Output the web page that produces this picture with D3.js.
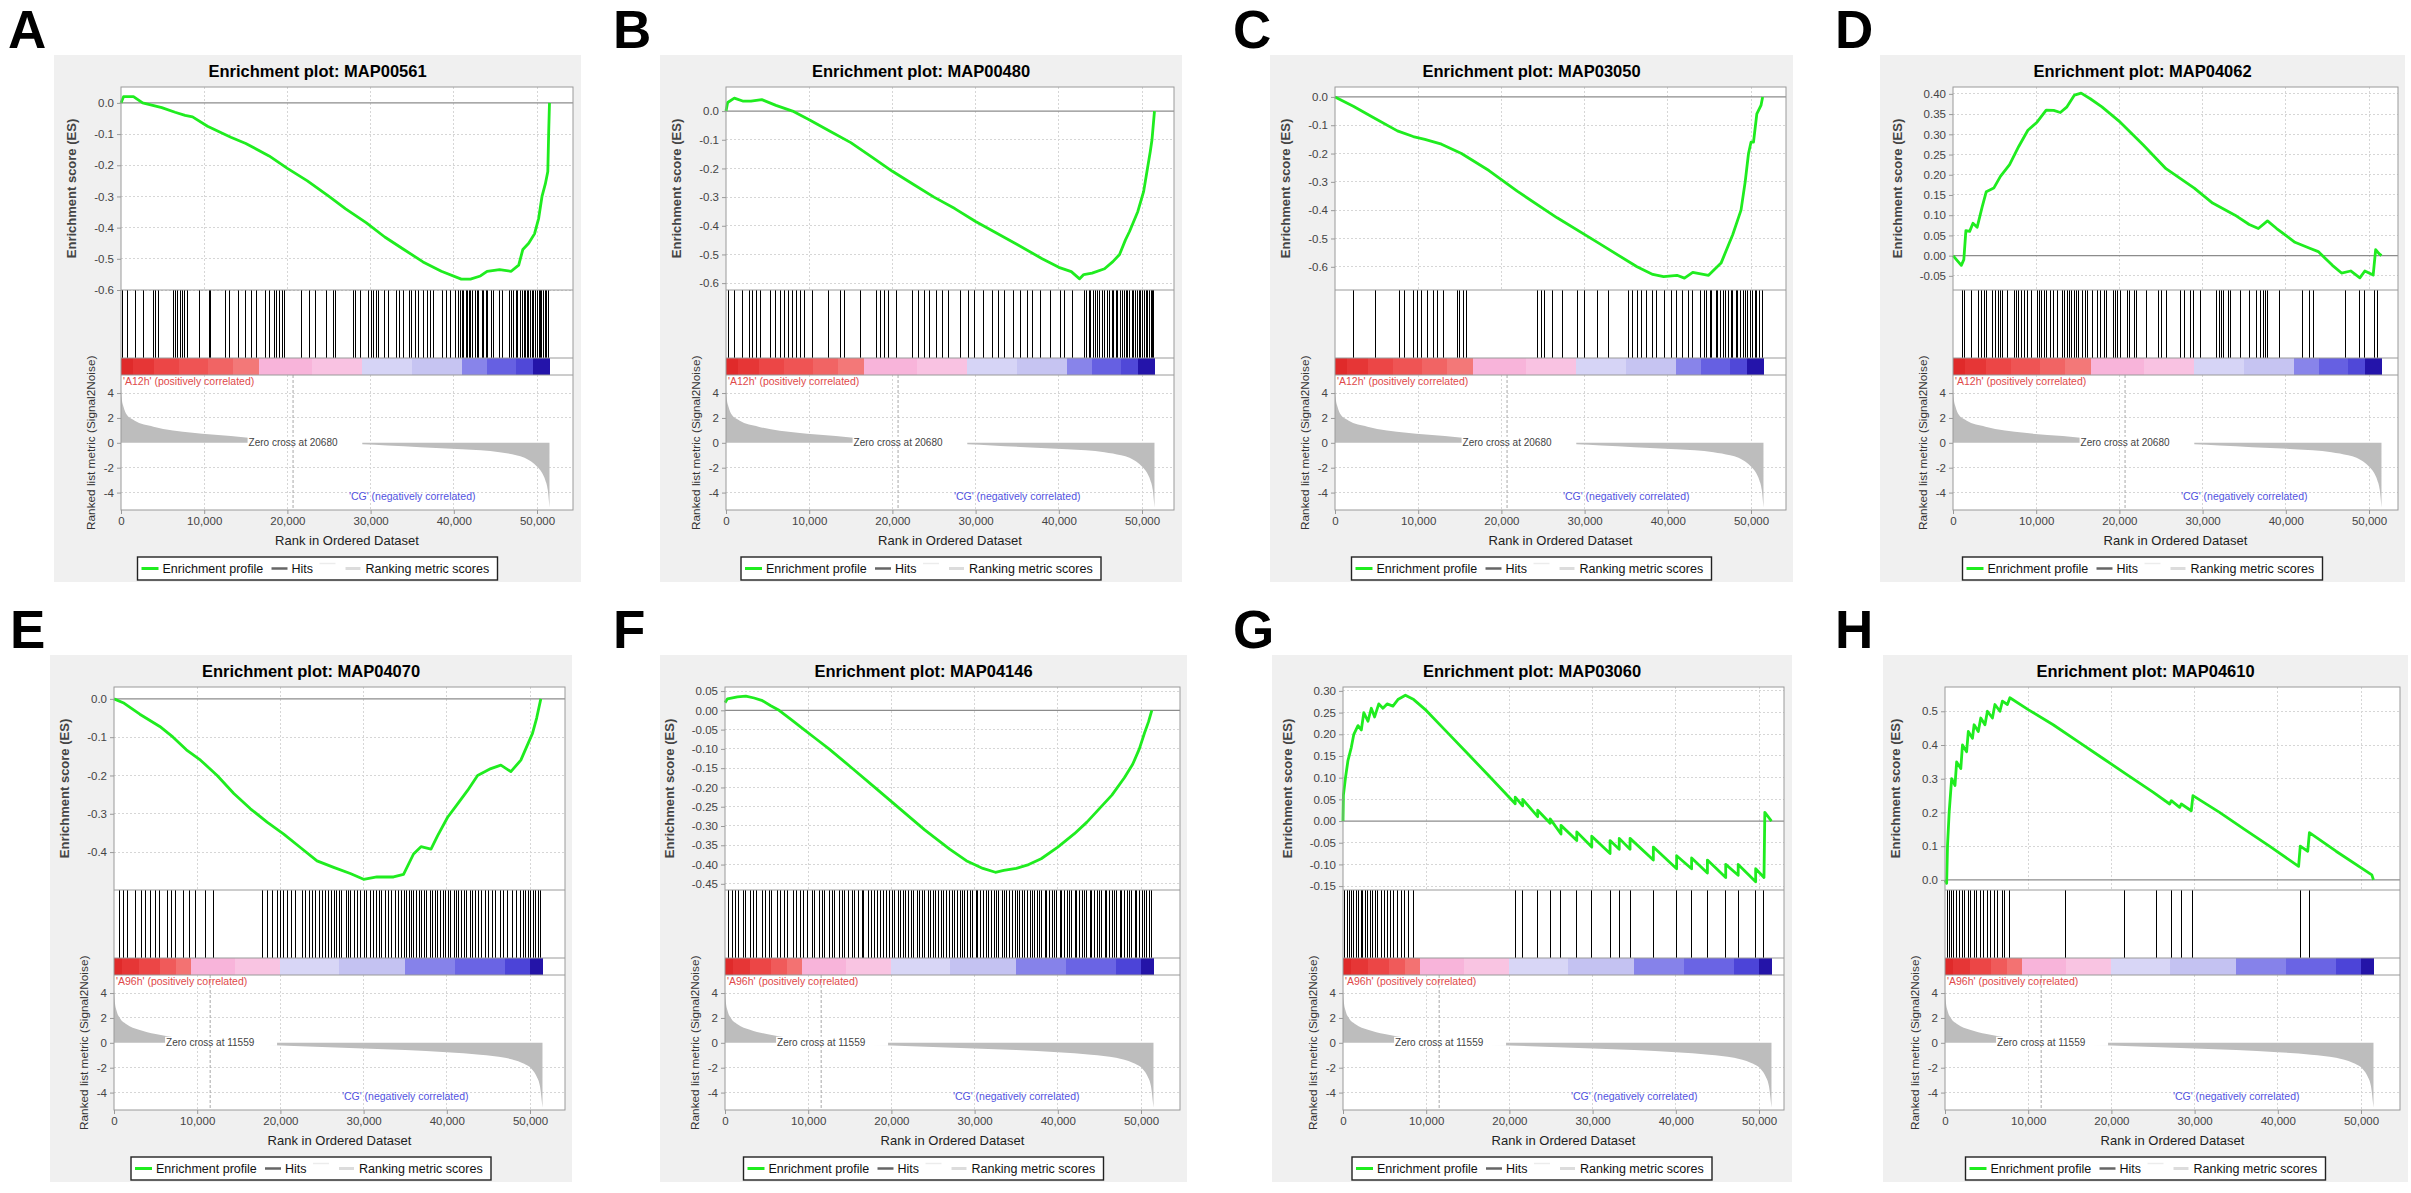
<!DOCTYPE html>
<html>
<head>
<meta charset="utf-8">
<script src="https://cdn.jsdelivr.net/npm/d3@7"></script>
<style>
  body { margin: 0; background: #fff; }
  svg text { font-family: "Liberation Sans", Arial, sans-serif; }
</style>
</head>
<body>
<div id="chart"></div>
<script>

// ---------- data (ranks in thousands) ----------

const panelLetters = ["A", "B", "C", "D", "E", "F", "G", "H"];
const geneSets = ["MAP00561", "MAP00480", "MAP03050", "MAP04062", "MAP04070", "MAP04146", "MAP03060", "MAP04610"];

// one ranked list per row of the figure
const phenotypeUp = ["A12h", "A96h"];
const phenotypeDown = ["CG", "CG"];
const zeroCross = [20680, 11559];

const xTicks = [0, 10000, 20000, 30000, 40000, 50000];
const metricTicks = [4, 2, 0, -2, -4];

const esTicksA = [0, -0.1, -0.2, -0.3, -0.4, -0.5, -0.6];
const esTicksB = [0, -0.1, -0.2, -0.3, -0.4, -0.5, -0.6];
const esTicksC = [0, -0.1, -0.2, -0.3, -0.4, -0.5, -0.6];
const esTicksD = [0.40, 0.35, 0.30, 0.25, 0.20, 0.15, 0.10, 0.05, 0.00, -0.05];
const esTicksE = [0, -0.1, -0.2, -0.3, -0.4];
const esTicksF = [0.05, 0, -0.05, -0.10, -0.15, -0.20, -0.25, -0.30, -0.35, -0.40, -0.45];
const esTicksG = [0.30, 0.25, 0.20, 0.15, 0.10, 0.05, 0.00, -0.05, -0.10, -0.15];
const esTicksH = [0.5, 0.4, 0.3, 0.2, 0.1, 0.0];

// ranked list metric (Signal2Noise), [rank, value]
const metricA12h = [[0, 4.3], [100, 3.5], [300, 2.9], [700, 2.25], [1600, 1.8], [3900, 1.3], [8600, 0.8],
  [13200, 0.54], [15000, 0.43], [18000, 0.25], [20680, 0], [25000, -0.06], [29000, -0.12], [32000, -0.22],
  [36000, -0.35], [41000, -0.51], [45500, -0.75], [47500, -1.0], [48500, -1.2], [49300, -1.5],
  [50000, -1.9], [50600, -2.4], [51000, -3.0], [51300, -3.8], [51500, -5.2]];
const metricA96h = [[0, 4.3], [100, 3.3], [300, 2.6], [700, 2.0], [1500, 1.5], [3000, 1.05], [5000, 0.7],
  [7500, 0.4], [10000, 0.15], [11559, 0], [15000, -0.12], [20000, -0.22], [25000, -0.33], [30000, -0.45],
  [35000, -0.58], [40000, -0.75], [44000, -0.95], [47000, -1.2], [49000, -1.6], [50200, -2.1],
  [50800, -2.7], [51200, -3.5], [51500, -5.2]];

// heat-map bar under the hits, [from, to, colour]
const barA12h = [[0, 1500, "#e02a2a"], [1500, 4000, "#e63636"], [4000, 7000, "#ec4646"], [7000, 10500, "#ef5454"],
  [10500, 13500, "#f16464"], [13500, 16600, "#f37878"], [16600, 23000, "#f8b4da"], [23000, 29000, "#f9c2e2"],
  [29000, 35000, "#d6d4f6"], [35000, 41000, "#c6c4f2"], [41000, 44000, "#8884ea"], [44000, 47500, "#6660e2"],
  [47500, 49500, "#5048d8"], [49500, 51500, "#2414aa"]];
const barA96h = [[0, 1000, "#e02a2a"], [1000, 3000, "#e63636"], [3000, 5500, "#ec4646"], [5500, 7500, "#f05a5a"],
  [7500, 9200, "#f37272"], [9200, 14500, "#f8b4da"], [14500, 20000, "#f9c4e2"], [20000, 27000, "#d8d6f6"],
  [27000, 35000, "#c4c2f2"], [35000, 41000, "#8682ea"], [41000, 47000, "#6a64e4"], [47000, 50000, "#4c44d8"],
  [50000, 51500, "#2414a8"]];

// running enrichment score, [rank (k), ES]
const esA = [[0, 0], [0.3, 0.02], [1.5, 0.02], [2.6, 0.0], [4.9, -0.015], [6.5, -0.03], [7.7, -0.04], [8.6, -0.045],
  [10.4, -0.075], [13.2, -0.11], [15, -0.13], [17.8, -0.17], [20, -0.21], [22.4, -0.25], [25, -0.3], [27, -0.34],
  [29.5, -0.385], [31.7, -0.43], [34, -0.47], [36.3, -0.51], [38.5, -0.54], [40.9, -0.565], [42, -0.565],
  [43.2, -0.555], [44, -0.54], [45.5, -0.535], [46.9, -0.54], [47.8, -0.52], [48.3, -0.47], [49, -0.45],
  [49.7, -0.42], [50.2, -0.37], [50.6, -0.3], [51, -0.26], [51.3, -0.22], [51.4, -0.1], [51.5, 0.0]];
const esB = [[0, 0], [0.2, 0.03], [1, 0.045], [2, 0.035], [3, 0.035], [4.3, 0.04], [6, 0.02], [8, 0.0],
  [10, -0.03], [12.5, -0.07], [15, -0.11], [17.5, -0.16], [20, -0.21], [22.5, -0.255], [25, -0.3],
  [27.5, -0.34], [30, -0.385], [32.5, -0.425], [35, -0.465], [38, -0.515], [40, -0.545], [41.5, -0.56],
  [42.5, -0.585], [43, -0.57], [44, -0.565], [45.5, -0.55], [46.5, -0.525], [47.3, -0.5], [48, -0.45],
  [48.5, -0.42], [49.5, -0.35], [50.2, -0.28], [50.6, -0.21], [51, -0.14], [51.2, -0.1], [51.5, 0.0]];
const esC = [[0, 0], [2.2, -0.033], [4.6, -0.073], [7.5, -0.12], [9.4, -0.14], [10.8, -0.15], [12.8, -0.167],
  [15.2, -0.2], [18.5, -0.26], [21.9, -0.333], [26.7, -0.427], [31.5, -0.513], [36.3, -0.6], [38.2, -0.627],
  [39.5, -0.635], [41.1, -0.63], [42, -0.64], [43, -0.62], [44.9, -0.63], [46.4, -0.587], [47.8, -0.487],
  [48.8, -0.4], [49.3, -0.3], [49.7, -0.2], [50, -0.16], [50.3, -0.16], [50.7, -0.06], [51.2, -0.03],
  [51.4, 0.0]];
const esD = [[0, 0], [1.0, -0.024], [1.3, -0.01], [1.55, 0.062], [2.0, 0.06], [2.4, 0.08], [2.9, 0.07],
  [3.5, 0.12], [4.0, 0.158], [4.9, 0.167], [5.7, 0.196], [6.8, 0.225], [7.9, 0.27], [9.0, 0.31], [10.1, 0.33],
  [11.2, 0.36], [12.1, 0.359], [12.9, 0.354], [13.7, 0.368], [14.6, 0.397], [15.4, 0.402], [16.5, 0.388],
  [17.9, 0.368], [20.1, 0.33], [22.9, 0.273], [25.6, 0.215], [29, 0.167], [31.2, 0.13], [33.9, 0.1],
  [35.6, 0.077], [36.7, 0.067], [37.8, 0.086], [38.9, 0.067], [41.1, 0.033], [42.8, 0.019], [43.9, 0.01],
  [45.6, -0.024], [46.7, -0.043], [47.8, -0.038], [48.9, -0.055], [49.5, -0.038], [50.5, -0.048],
  [50.8, 0.015], [51.2, 0.005], [51.5, 0.0]];
const esE = [[0, 0], [1.1, -0.01], [3.1, -0.04], [5.5, -0.072], [7.1, -0.1], [8.7, -0.133], [10.4, -0.16],
  [12.4, -0.2], [14.4, -0.247], [16.4, -0.287], [18.4, -0.322], [20.4, -0.353], [22.4, -0.388], [24.4, -0.423],
  [26.4, -0.44], [28.4, -0.456], [30, -0.471], [31.6, -0.465], [33.6, -0.465], [34.8, -0.458], [36, -0.405],
  [36.9, -0.386], [38.1, -0.392], [38.9, -0.357], [40.1, -0.309], [41.3, -0.274], [42.5, -0.239],
  [43.7, -0.2], [45.3, -0.182], [46.5, -0.173], [47.7, -0.19], [48.9, -0.16], [49.5, -0.13], [50.3, -0.09],
  [50.8, -0.05], [51.3, 0.0]];
const esF = [[0, 0.02], [0.3, 0.03], [1.5, 0.035], [2.5, 0.037], [3.5, 0.032], [4.5, 0.025], [5.5, 0.012],
  [6.5, 0.0], [8, -0.025], [9.5, -0.05], [11, -0.075], [12.5, -0.1], [15, -0.145], [18, -0.2], [21, -0.255],
  [24, -0.31], [27, -0.36], [29, -0.39], [31, -0.41], [32.5, -0.42], [33.5, -0.415], [35, -0.41],
  [36.5, -0.4], [38, -0.385], [40, -0.355], [42, -0.32], [43.5, -0.29], [45, -0.255], [46.5, -0.22],
  [48, -0.175], [49, -0.14], [49.8, -0.1], [50.4, -0.06], [50.9, -0.03], [51.3, 0.0]];
const esG = [[0, 0], [0.05, 0.06], [0.3, 0.1], [0.6, 0.14], [1.0, 0.17], [1.3, 0.2], [1.8, 0.22], [2.2, 0.21],
  [2.5, 0.25], [3.0, 0.23], [3.4, 0.26], [3.8, 0.24], [4.3, 0.27], [4.8, 0.26], [5.3, 0.27], [6.0, 0.265],
  [6.6, 0.28], [7.5, 0.29], [8.5, 0.28], [10, 0.255], [12.5, 0.205], [15, 0.155], [17.5, 0.105],
  [20.7, 0.04], [20.7, 0.055], [21.6, 0.035], [21.6, 0.05], [23.4, 0.01], [23.4, 0.025], [24.9, -0.005],
  [24.9, 0.005], [26.2, -0.03], [26.2, -0.01], [28.1, -0.045], [28.1, -0.025], [29.9, -0.06], [29.9, -0.035],
  [32.1, -0.075], [32.1, -0.045], [33.2, -0.065], [33.2, -0.04], [34.5, -0.065], [34.5, -0.04],
  [37.3, -0.09], [37.3, -0.06], [40.1, -0.11], [40.1, -0.08], [41.9, -0.11], [41.9, -0.085], [43.8, -0.12],
  [43.8, -0.09], [46.0, -0.13], [46.0, -0.1], [47.5, -0.125], [47.5, -0.1], [49.6, -0.14], [49.6, -0.11],
  [50.6, -0.13], [50.7, 0.02], [51.5, 0.0]];
const esH = [[0, 0], [0.2, -0.01], [0.3, 0.1], [0.5, 0.2], [0.8, 0.3], [1.2, 0.28], [1.4, 0.35], [1.9, 0.33],
  [2.1, 0.4], [2.6, 0.38], [2.8, 0.44], [3.3, 0.42], [3.5, 0.46], [4.0, 0.44], [4.3, 0.48], [4.8, 0.46],
  [5.1, 0.5], [5.7, 0.48], [6.0, 0.52], [6.6, 0.5], [6.9, 0.53], [7.5, 0.52], [7.8, 0.54], [10, 0.505],
  [13, 0.46], [16, 0.41], [19, 0.36], [22, 0.31], [25, 0.26], [27, 0.225], [27.2, 0.235], [28.2, 0.215],
  [28.4, 0.225], [29.6, 0.205], [29.8, 0.25], [33, 0.2], [36, 0.15], [39, 0.1], [42.5, 0.04], [42.7, 0.1],
  [43.6, 0.085], [43.8, 0.14], [47, 0.085], [51.3, 0.015], [51.5, 0.0]];

// gene set members (hits), rank in thousands
const hitsA = [0.16, 0.8, 1.7, 2.7, 3.9, 4.2, 4.5, 6.3, 6.5, 6.8, 7.1, 7.4, 7.6, 8.0, 9.4, 10.6, 10.8, 12.5, 13.0,
  14.1, 15.0, 15.7, 16.3, 17.4, 17.8, 18.4, 18.7, 19.0, 19.4, 19.7, 21.7, 22.6, 23.4, 24.7, 25.6, 25.8, 27.9,
  28.2, 28.8, 29.7, 30.1, 30.3, 30.7, 31.0, 31.7, 32.1, 33.1, 33.5, 33.9, 34.7, 34.9, 35.4, 35.8, 36.3, 36.8,
  37.2, 37.5, 38.7, 39.1, 39.6, 40.2, 40.6, 40.8, 41.1, 41.2, 41.5, 41.6, 41.9, 42.0, 42.3, 42.6, 42.8, 43.0,
  43.4, 43.6, 43.9, 44.1, 44.5, 44.8, 45.5, 45.9, 46.7, 46.9, 47.2, 47.5, 47.7, 48.0, 48.2, 48.5, 48.6, 48.9,
  49.0, 49.2, 49.5, 49.6, 49.8, 50.0, 50.3, 50.4, 50.6, 50.8, 51.0, 51.2, 51.4];
const hitsB = [0.3, 1.05, 2.0, 2.8, 3.2, 3.7, 4.1, 5.3, 5.9, 6.5, 7.0, 7.5, 8.0, 8.5, 8.9, 9.4, 10.4, 12.3, 13.8,
  14.3, 16.2, 18.1, 18.6, 19.0, 19.5, 20.5, 22.4, 23.1, 23.9, 24.5, 25.3, 26.0, 26.7, 28.2, 29.2, 29.9, 30.9,
  32.0, 32.8, 33.5, 34.6, 35.4, 36.2, 36.8, 37.8, 39.0, 40.2, 40.7, 41.7, 43.1, 43.3, 43.7, 43.8, 44.2, 44.4,
  44.7, 44.9, 45.3, 45.5, 45.9, 46.1, 46.4, 46.6, 46.9, 47.0, 47.4, 47.6, 47.9, 48.1, 48.3, 48.5, 48.8, 49.0,
  49.2, 49.4, 49.7, 49.8, 50.1, 50.3, 50.5, 50.7, 50.9, 51.1, 51.3, 51.4];
const hitsC = [2.2, 4.9, 7.8, 8.4, 9.4, 9.9, 10.4, 11.1, 11.8, 12.3, 13.1, 14.7, 15.0, 15.4, 15.8, 24.3, 24.8,
  25.2, 26.2, 27.4, 29.1, 30.0, 31.5, 32.9, 35.3, 35.8, 36.3, 36.8, 37.4, 38.2, 38.7, 39.6, 40.4, 41.1, 41.8,
  42.5, 43.0, 43.9, 44.4, 44.6, 45.1, 45.3, 45.8, 46.0, 46.3, 46.7, 46.9, 47.3, 47.6, 47.8, 48.2, 48.4, 48.7,
  49.1, 49.3, 49.6, 49.9, 50.2, 50.5, 50.7, 51.0, 51.4];
const hitsD = [1.16, 1.44, 2.27, 3.10, 3.38, 3.77, 4.04, 4.76, 5.15, 5.43, 5.70, 5.98, 6.53, 7.36, 7.64, 7.92,
  8.19, 8.58, 8.91, 9.47, 10.13, 10.41, 10.69, 10.96, 11.24, 11.68, 12.07, 12.62, 13.18, 13.46, 13.73, 14.01,
  14.29, 14.56, 14.84, 15.12, 15.56, 15.95, 16.22, 16.78, 17.33, 17.77, 18.16, 18.44, 19.27, 19.55, 19.82,
  20.10, 20.93, 21.21, 21.76, 22.04, 23.31, 24.70, 25.08, 25.64, 27.30, 27.85, 28.52, 28.96, 29.79, 31.73,
  32.00, 32.28, 32.56, 33.11, 33.39, 34.50, 35.60, 36.43, 36.99, 37.27, 37.54, 37.82, 39.20, 41.97, 42.80,
  43.36, 47.23, 48.89, 49.45, 50.66, 51.0];
const hitsE = [0.7, 1.2, 1.6, 2.6, 3.3, 3.8, 4.4, 5.0, 5.5, 6.4, 6.9, 7.4, 8.3, 9.1, 9.8, 11.0, 11.9, 17.8, 18.5,
  19.1, 19.6, 20.0, 20.4, 20.9, 21.3, 21.8, 22.6, 23.0, 23.5, 23.9, 24.2, 24.7, 25.1, 25.4, 25.8, 26.1, 26.5,
  26.7, 27.1, 27.4, 27.9, 28.2, 28.4, 28.9, 29.3, 29.6, 30.1, 30.3, 30.8, 31.2, 31.5, 31.9, 32.1, 32.6, 33.0,
  33.3, 33.8, 34.2, 34.5, 34.9, 35.2, 35.5, 35.8, 36.0, 36.3, 36.7, 36.9, 37.3, 37.6, 38.0, 38.3, 38.7, 38.9,
  39.3, 39.6, 39.9, 40.2, 40.5, 40.9, 41.2, 41.4, 41.8, 42.1, 42.4, 42.8, 43.1, 43.5, 43.8, 44.2, 44.6, 45.0,
  45.5, 45.9, 46.4, 46.8, 47.3, 47.9, 48.4, 48.8, 49.2, 49.5, 49.8, 50.1, 50.4, 50.7, 51.0, 51.3];
const hitsF = [0.4, 0.9, 1.3, 1.6, 2.2, 2.5, 3.1, 3.4, 3.8, 4.5, 4.9, 5.3, 5.6, 6.3, 6.7, 7.2, 7.5, 8.2, 8.6, 9.1,
  9.4, 9.9, 10.5, 10.8, 11.3, 11.7, 12.0, 12.6, 12.9, 13.2, 13.8, 14.1, 14.4, 14.9, 15.3, 15.6, 16.1, 16.5,
  16.7, 17.2, 17.6, 18.0, 18.3, 18.7, 19.0, 19.4, 19.8, 20.1, 20.4, 20.8, 21.1, 21.4, 21.7, 22.1, 22.4, 22.7,
  23.1, 23.4, 23.7, 24.0, 24.4, 24.7, 25.0, 25.3, 25.7, 26.0, 26.3, 26.6, 27.0, 27.3, 27.6, 27.9, 28.3, 28.5,
  28.8, 29.2, 29.5, 29.8, 30.2, 30.4, 30.7, 31.1, 31.4, 31.7, 32.0, 32.4, 32.6, 32.9, 33.3, 33.6, 33.8, 34.2,
  34.5, 34.9, 35.1, 35.4, 35.8, 36.0, 36.3, 36.7, 36.9, 37.2, 37.6, 37.8, 38.1, 38.5, 38.7, 39.0, 39.4, 39.6,
  39.9, 40.3, 40.5, 40.8, 41.2, 41.4, 41.7, 42.1, 42.3, 42.6, 43.0, 43.2, 43.5, 43.9, 44.1, 44.4, 44.8, 45.0,
  45.3, 45.7, 45.9, 46.2, 46.6, 46.8, 47.1, 47.5, 47.7, 48.0, 48.4, 48.6, 48.9, 49.3, 49.5, 49.8, 50.2, 50.4,
  50.7, 51.0, 51.3];
const hitsG = [0.2, 0.5, 0.8, 1.0, 1.3, 1.6, 1.9, 2.2, 2.4, 2.7, 3.0, 3.3, 3.5, 3.9, 4.2, 4.6, 5.0, 5.3, 5.7, 6.1,
  6.5, 7.0, 7.4, 7.9, 8.5, 20.7, 21.6, 23.4, 24.9, 26.2, 28.1, 29.9, 32.1, 33.2, 34.5, 37.3, 40.1, 41.9, 43.8,
  46.0, 47.5, 49.6, 50.6];
const hitsH = [0.3, 0.5, 0.8, 1.0, 1.4, 1.7, 2.1, 2.4, 2.8, 3.1, 3.5, 3.8, 4.3, 4.6, 5.1, 5.5, 6.0, 6.3, 6.9, 7.2,
  7.8, 14.5, 21.6, 25.4, 27.2, 28.4, 29.8, 42.7, 43.8];

// the library-facing table, assembled from the arrays above
const panels = panelLetters.map((letter, i) => ({
  letter: letter,
  title: "Enrichment plot: " + geneSets[i],
  es: [esA, esB, esC, esD, esE, esF, esG, esH][i],
  hits: [hitsA, hitsB, hitsC, hitsD, hitsE, hitsF, hitsG, hitsH][i],
  esTicks: [esTicksA, esTicksB, esTicksC, esTicksD, esTicksE, esTicksF, esTicksG, esTicksH][i]
}));
const rankedLists = [
  {up: phenotypeUp[0], down: phenotypeDown[0], zero: zeroCross[0], metric: metricA12h, bar: barA12h},
  {up: phenotypeUp[1], down: phenotypeDown[1], zero: zeroCross[1], metric: metricA96h, bar: barA96h}
];

// ---------- layout ----------

const W = 2411, H = 1193;

// per panel: background box, plot box, letter x, ES axis range, tick decimals
const layout = [
  {bg: [54, 581], plot: [121, 573], letterX: 8, row: 0, esRange: [-0.6, 0.051], dec: 1},
  {bg: [660, 1182], plot: [726, 1174], letterX: 613, row: 0, esRange: [-0.624, 0.084], dec: 1},
  {bg: [1270, 1793], plot: [1335, 1786], letterX: 1233, row: 0, esRange: [-0.682, 0.035], dec: 1},
  {bg: [1880, 2405], plot: [1953, 2398], letterX: 1835, row: 0, esRange: [-0.085, 0.417], dec: 2},
  {bg: [50, 572], plot: [114, 565], letterX: 10, row: 1, esRange: [-0.499, 0.031], dec: 1},
  {bg: [660, 1187], plot: [725, 1180], letterX: 613, row: 1, esRange: [-0.466, 0.0605], dec: 2},
  {bg: [1272, 1792], plot: [1343, 1784], letterX: 1233, row: 1, esRange: [-0.159, 0.309], dec: 2},
  {bg: [1883, 2408], plot: [1945, 2400], letterX: 1835, row: 1, esRange: [-0.03, 0.572], dec: 1}
];
const rowOffset = [0, 600];
// label-gap end of the zero-cross label, per row (rank)
const zeroLabelGapEnd = [29000, 19600];

const Y = {bgTop: 55, bgBot: 582, title: 77, plotTop: 87, esBot: 290, hitsBot: 358, barBot: 375,
  plotBot: 510, letter: 48, legTop: 557, legH: 23};
const PX_PER_50K = 416;

const GREEN = "#1fec1f";
const GRID = "#d6d6d6";
const FRAME = "#9a9a9a";

const svg = d3.select("#chart").append("svg")
  .attr("width", W)
  .attr("height", H);

svg.append("rect").attr("width", W).attr("height", H).attr("fill", "#fff");

panels.forEach((p, i) => {
  const L = layout[i];
  const R = rankedLists[L.row];
  const g = svg.append("g").attr("transform", `translate(0,${rowOffset[L.row]})`);
  const pl = L.plot[0], pr = L.plot[1];
  const cx = (L.bg[0] + L.bg[1]) / 2;

  const x = d3.scaleLinear().domain([0, 50000]).range([pl, pl + PX_PER_50K]);
  const yES = d3.scaleLinear().domain(L.esRange).range([Y.esBot, Y.plotTop]);
  const yM = d3.scaleLinear().domain([-5.4, 5.45]).range([Y.plotBot, Y.barBot]);

  // panel letter
  g.append("text")
    .attr("x", L.letterX).attr("y", Y.letter)
    .style("font-size", "53px").style("font-weight", "bold")
    .text(p.letter);

  // grey background + white plot
  g.append("rect")
    .attr("x", L.bg[0]).attr("y", Y.bgTop)
    .attr("width", L.bg[1] - L.bg[0]).attr("height", Y.bgBot - Y.bgTop)
    .attr("fill", "#f0f0f0");
  g.append("rect")
    .attr("x", pl).attr("y", Y.plotTop)
    .attr("width", pr - pl).attr("height", Y.plotBot - Y.plotTop)
    .attr("fill", "#fff");

  g.append("text")
    .attr("x", cx).attr("y", Y.title)
    .attr("text-anchor", "middle")
    .style("font-size", "16.5px").style("font-weight", "bold")
    .text(p.title);

  // grid lines
  const grid = g.append("g").attr("stroke", GRID).attr("stroke-dasharray", "2,2")
    .attr("shape-rendering", "crispEdges");
  xTicks.slice(1).forEach(t => {
    grid.append("line").attr("x1", x(t)).attr("x2", x(t)).attr("y1", Y.plotTop).attr("y2", Y.esBot);
    grid.append("line").attr("x1", x(t)).attr("x2", x(t)).attr("y1", Y.barBot).attr("y2", Y.plotBot);
  });
  p.esTicks.forEach(t => {
    if (Math.abs(t) < 1e-9) return;
    grid.append("line").attr("x1", pl).attr("x2", pr).attr("y1", yES(t)).attr("y2", yES(t));
  });
  metricTicks.forEach(t => {
    if (t === 0) return;
    grid.append("line").attr("x1", pl).attr("x2", pr).attr("y1", yM(t)).attr("y2", yM(t));
  });

  // ES zero line
  g.append("line")
    .attr("x1", pl).attr("x2", pr).attr("y1", yES(0)).attr("y2", yES(0))
    .attr("stroke", "#8c8c8c").attr("stroke-width", 1.3);

  // hits
  g.append("g").attr("shape-rendering", "crispEdges")
    .selectAll("line").data(p.hits).join("line")
    .attr("x1", d => x(d * 1000)).attr("x2", d => x(d * 1000))
    .attr("y1", Y.esBot).attr("y2", Y.hitsBot)
    .attr("stroke", "#000").attr("stroke-width", 1);

  // colour bar
  g.append("g").attr("shape-rendering", "crispEdges")
    .selectAll("rect").data(R.bar).join("rect")
    .attr("x", d => x(d[0])).attr("width", d => x(d[1]) - x(d[0]) + 0.3)
    .attr("y", Y.hitsBot).attr("height", Y.barBot - Y.hitsBot)
    .attr("fill", d => d[2]);

  // ranked list metric
  const area = d3.area()
    .x(d => x(d[0]))
    .y0(yM(0))
    .y1(d => yM(d[1]))
    .curve(d3.curveMonotoneX);
  g.append("path").datum(R.metric)
    .attr("d", area)
    .attr("fill", "#bdbdbd");

  // zero cross marker
  g.append("line")
    .attr("x1", x(R.zero)).attr("x2", x(R.zero))
    .attr("y1", Y.barBot).attr("y2", Y.plotBot)
    .attr("stroke", "#a8a8a8").attr("stroke-dasharray", "3,2");
  const zl = g.append("text")
    .attr("x", x(R.zero)).attr("y", yM(0) + 3.5)
    .attr("text-anchor", "middle")
    .style("font-size", "10px").attr("fill", "#444")
    .text("Zero cross at " + R.zero);
  const bb = zl.node().getBBox();
  g.insert("rect", () => zl.node())
    .attr("x", bb.x - 1).attr("y", yM(0) - 6)
    .attr("width", x(zeroLabelGapEnd[L.row]) - bb.x + 1).attr("height", 9)
    .attr("fill", "#fff");

  // phenotype labels
  g.append("text")
    .attr("x", pl + 2).attr("y", Y.barBot + 10)
    .style("font-size", "10.5px").attr("fill", "#e04a4a")
    .text(`'${R.up}' (positively correlated)`);
  g.append("text")
    .attr("x", x(35000)).attr("y", yM(-4.6))
    .attr("text-anchor", "middle")
    .style("font-size", "10.5px").attr("fill", "#5252e0")
    .text(`'${R.down}' (negatively correlated)`);

  // running enrichment score
  const line = d3.line().x(d => x(d[0] * 1000)).y(d => yES(d[1]));
  g.append("path").datum(p.es)
    .attr("d", line)
    .attr("fill", "none")
    .attr("stroke", GREEN).attr("stroke-width", 2.8)
    .attr("stroke-linejoin", "round");

  // frame and separators
  g.append("rect")
    .attr("x", pl).attr("y", Y.plotTop)
    .attr("width", pr - pl).attr("height", Y.plotBot - Y.plotTop)
    .attr("fill", "none").attr("stroke", FRAME);
  [Y.esBot, Y.hitsBot, Y.barBot].forEach(yy => {
    g.append("line").attr("x1", pl).attr("x2", pr).attr("y1", yy).attr("y2", yy)
      .attr("stroke", FRAME);
  });

  // axes
  const fmtES = d => d.toFixed(L.dec);
  const axES = g.append("g").attr("transform", `translate(${pl},0)`)
    .call(d3.axisLeft(yES).tickValues(p.esTicks).tickFormat(fmtES).tickSize(4).tickPadding(3));
  const axM = g.append("g").attr("transform", `translate(${pl},0)`)
    .call(d3.axisLeft(yM).tickValues(metricTicks).tickFormat(d => String(d)).tickSize(4).tickPadding(3));
  const axX = g.append("g").attr("transform", `translate(0,${Y.plotBot})`)
    .call(d3.axisBottom(x).tickValues(xTicks).tickFormat(d3.format(",")).tickSize(4).tickPadding(3));
  [axES, axM, axX].forEach(a => {
    a.select(".domain").remove();
    a.selectAll(".tick line").attr("stroke", FRAME);
    a.selectAll("text")
      .style("font-family", "'Liberation Sans', Arial, sans-serif")
      .style("font-size", "11.5px").attr("fill", "#444");
  });

  // axis titles
  const shift = L.dec === 2 ? 51 : 45;
  g.append("text")
    .attr("transform", `translate(${pl - shift},${(Y.plotTop + Y.esBot) / 2}) rotate(-90)`)
    .attr("text-anchor", "middle")
    .style("font-size", "13px").style("font-weight", "bold").attr("fill", "#444")
    .text("Enrichment score (ES)");
  g.append("text")
    .attr("transform", `translate(${pl - 26},${yM(0)}) rotate(-90)`)
    .attr("text-anchor", "middle")
    .style("font-size", "11.8px").attr("fill", "#333")
    .text("Ranked list metric (Signal2Noise)");
  g.append("text")
    .attr("x", (pl + pr) / 2).attr("y", Y.plotBot + 35)
    .attr("text-anchor", "middle")
    .style("font-size", "13px").attr("fill", "#222")
    .text("Rank in Ordered Dataset");

  // legend
  const lx = cx - 180;
  const my = Y.legTop + Y.legH / 2;
  const leg = g.append("g");
  leg.append("rect")
    .attr("x", lx).attr("y", Y.legTop).attr("width", 360).attr("height", Y.legH)
    .attr("fill", "#fff").attr("stroke", "#222").attr("stroke-width", 1.4);
  const legendItems = [
    {x0: 4, x1: 21, dy: 0, color: GREEN, w: 3, label: "Enrichment profile", tx: 25},
    {x0: 134, x1: 150, dy: 0, color: "#666", w: 2.5, label: "Hits", tx: 154},
    {x0: 182, x1: 198, dy: -5, color: "#ececec", w: 1.5, label: "", tx: 0},
    {x0: 208, x1: 223, dy: 0, color: "#dcdcdc", w: 3, label: "Ranking metric scores", tx: 228}
  ];
  legendItems.forEach(it => {
    leg.append("line")
      .attr("x1", lx + it.x0).attr("x2", lx + it.x1)
      .attr("y1", my + it.dy).attr("y2", my + it.dy)
      .attr("stroke", it.color).attr("stroke-width", it.w);
    if (it.label) {
      leg.append("text")
        .attr("x", lx + it.tx).attr("y", my + 4.5)
        .style("font-size", "12.5px").attr("fill", "#111")
        .text(it.label);
    }
  });
});
</script>
</body>
</html>
